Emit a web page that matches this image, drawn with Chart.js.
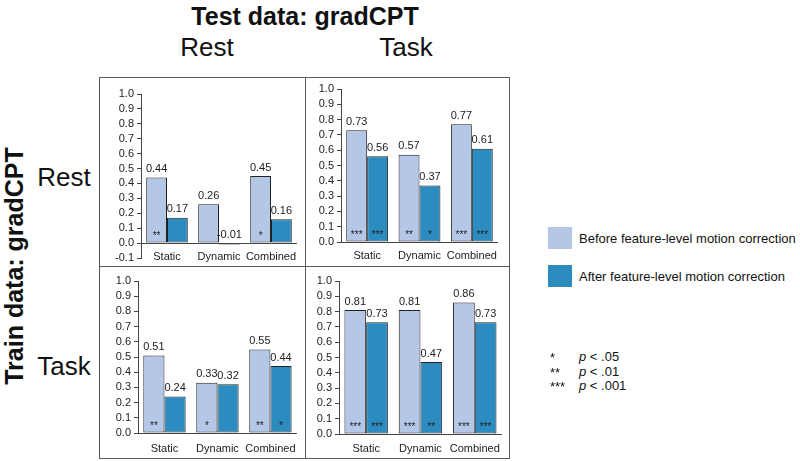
<!DOCTYPE html>
<html>
<head>
<meta charset="utf-8">
<script src="https://cdn.jsdelivr.net/npm/chart.js@4/dist/chart.umd.min.js"></script>
<style>
  html,body{margin:0;padding:0;background:#fff;}
  body{width:800px;height:461px;position:relative;overflow:hidden;font-family:"Liberation Sans",Arial,sans-serif;color:#111;}
  .t{position:absolute;white-space:nowrap;transform:translate(-50%,-50%);}
  .l{position:absolute;white-space:nowrap;transform:translateY(-50%);}
  canvas{position:absolute;}
  .line{position:absolute;background:#5a5a5a;}
  .sw{position:absolute;width:24px;height:22px;}
</style>
</head>
<body>

<div class="t" style="left:305px;top:16px;font-size:25px;font-weight:bold;">Test data: gradCPT</div>
<div class="t" style="left:207px;top:47px;font-size:26px;">Rest</div>
<div class="t" style="left:406px;top:47px;font-size:26px;">Task</div>
<div class="t" style="left:14px;top:266px;font-size:25px;font-weight:bold;transform:translate(-50%,-50%) rotate(-90deg);">Train data: gradCPT</div>
<div class="t" style="left:64px;top:177px;font-size:26px;">Rest</div>
<div class="t" style="left:64px;top:366px;font-size:26px;">Task</div>

<!-- panel frame -->
<div class="line" style="left:99px;top:77px;width:411px;height:1px;"></div>
<div class="line" style="left:99px;top:458px;width:411px;height:1px;"></div>
<div class="line" style="left:99px;top:77px;width:1px;height:382px;"></div>
<div class="line" style="left:509px;top:77px;width:1px;height:382px;"></div>
<div class="line" style="left:305px;top:77px;width:1px;height:382px;"></div>
<div class="line" style="left:99px;top:266px;width:411px;height:1px;"></div>

<canvas id="c1"></canvas>
<canvas id="c2"></canvas>
<canvas id="c3"></canvas>
<canvas id="c4"></canvas>

<!-- legend -->
<div class="sw" style="left:548px;top:227px;background:#b4c7e7;"></div>
<div class="l" style="left:579px;top:238px;font-size:13px;">Before feature-level motion correction</div>
<div class="sw" style="left:548px;top:265px;background:#2c8bbf;"></div>
<div class="l" style="left:579px;top:276px;font-size:13px;">After feature-level motion correction</div>

<div class="l" style="left:550px;top:357px;font-size:13px;">*</div>
<div class="l" style="left:579px;top:356px;font-size:13px;"><i>p</i> &lt; .05</div>
<div class="l" style="left:550px;top:372px;font-size:13px;">**</div>
<div class="l" style="left:579px;top:371px;font-size:13px;"><i>p</i> &lt; .01</div>
<div class="l" style="left:550px;top:386px;font-size:13px;">***</div>
<div class="l" style="left:579px;top:385px;font-size:13px;"><i>p</i> &lt; .001</div>

<script>
/* ========= DATA ========= */
const categories = ["Static", "Dynamic", "Combined"];

// train Rest / test Rest
const restRestBefore = [0.44, 0.26, 0.45];
const restRestAfter  = [0.17, -0.01, 0.16];
const restRestStarsBefore = ["**", "", "*"];
const restRestStarsAfter  = ["", "", ""];

// train Rest / test Task
const restTaskBefore = [0.73, 0.57, 0.77];
const restTaskAfter  = [0.56, 0.37, 0.61];
const restTaskStarsBefore = ["***", "**", "***"];
const restTaskStarsAfter  = ["***", "*", "***"];

// train Task / test Rest
const taskRestBefore = [0.51, 0.33, 0.55];
const taskRestAfter  = [0.24, 0.32, 0.44];
const taskRestStarsBefore = ["**", "*", "**"];
const taskRestStarsAfter  = ["", "", "*"];

// train Task / test Task
const taskTaskBefore = [0.81, 0.81, 0.86];
const taskTaskAfter  = [0.73, 0.47, 0.73];
const taskTaskStarsBefore = ["***", "***", "***"];
const taskTaskStarsAfter  = ["***", "**", "***"];

const yMax = 1.0;
const yStep = 0.1;

/* ========= STYLE ========= */
const FONT = "'Liberation Sans', Arial, sans-serif";
const BEFORE = "#b4c7e7";
const AFTER  = "#2c8bbf";

/* ========= PLUGINS ========= */
const zeroLine = {
  id: "zeroLine",
  afterDatasetsDraw(chart){
    const {ctx, chartArea, scales} = chart;
    const y = Math.round(scales.y.getPixelForValue(0)) + 0.5;
    ctx.save();
    ctx.strokeStyle = "#444";
    ctx.lineWidth = 1;
    ctx.beginPath();
    ctx.moveTo(chartArea.left, y);
    ctx.lineTo(chartArea.right, y);
    ctx.stroke();
    ctx.restore();
  }
};

const barNotes = {
  id: "barNotes",
  afterDatasetsDraw(chart){
    const {ctx, scales} = chart;
    ctx.save();
    ctx.textAlign = "center";
    chart.data.datasets.forEach((ds, i) => {
      chart.getDatasetMeta(i).data.forEach((bar, j) => {
        const v = ds.data[j];
        const top = scales.y.getPixelForValue(Math.max(v, 0));
        ctx.fillStyle = "#222";
        ctx.font = "11px " + FONT;
        ctx.textBaseline = "bottom";
        ctx.fillText(v.toFixed(2), bar.x, top - 3);
        if (ds.stars[j]) {
          ctx.font = "10px " + FONT;
          ctx.textBaseline = "middle";
          ctx.fillText(ds.stars[j], bar.x, scales.y.getPixelForValue(0.045));
        }
      });
    });
    ctx.restore();
  }
};

/* ========= PANELS ========= */
function panel(id, box, yMin, before, after, starsBefore, starsAfter){
  const cv = document.getElementById(id);
  cv.style.left = box.left + "px";
  cv.style.top = box.top + "px";
  cv.style.width = box.width + "px";
  cv.style.height = box.height + "px";
  cv.width = box.width;
  cv.height = box.height;

  new Chart(cv, {
    type: "bar",
    data: {
      labels: categories,
      datasets: [
        {data: before, stars: starsBefore, backgroundColor: BEFORE, borderColor: "#222", borderWidth: 1, borderSkipped: false},
        {data: after,  stars: starsAfter,  backgroundColor: AFTER,  borderColor: "#222", borderWidth: 1, borderSkipped: false}
      ]
    },
    options: {
      responsive: false,
      animation: false,
      events: [],
      layout: {padding: {top: box.padTop, right: box.padRight, bottom: 0, left: 0}},
      plugins: {legend: {display: false}, tooltip: {enabled: false}},
      datasets: {bar: {categoryPercentage: 0.8, barPercentage: 1.0}},
      scales: {
        x: {
          afterFit(scale){ scale.height = box.axisH; },
          grid: {display: false, drawTicks: false},
          border: {display: false},
          ticks: {color: "#222", font: {family: FONT, size: 11}, padding: box.labelPad, mirror: !!box.mirror, maxRotation: 0, autoSkip: false}
        },
        y: {
          min: yMin,
          max: yMax,
          afterFit(scale){ scale.width = box.axisW; },
          afterBuildTicks(scale){
            const t = [];
            for (let k = Math.round(yMin / yStep); k <= Math.round(yMax / yStep); k++) t.push({value: +(k * yStep).toFixed(1)});
            scale.ticks = t;
          },
          grid: {drawOnChartArea: false, drawTicks: true, tickLength: 4, color: "#444"},
          border: {display: true, color: "#444"},
          ticks: {
            color: "#222",
            font: {family: FONT, size: 11},
            padding: 3,
            autoSkip: false,
            callback: v => v.toFixed(1)
          }
        }
      }
    },
    plugins: [zeroLine, barNotes]
  });
}

panel("c1", {left: 100, top: 78, width: 205, height: 194, axisW: 41, axisH: 14, padTop: 16, padRight: 8, labelPad: -6, mirror: true},
      -0.1, restRestBefore, restRestAfter, restRestStarsBefore, restRestStarsAfter);
panel("c2", {left: 306, top: 78, width: 203, height: 188, axisW: 35, axisH: 24, padTop: 11, padRight: 11, labelPad: 7},
      0, restTaskBefore, restTaskAfter, restTaskStarsBefore, restTaskStarsAfter);
panel("c3", {left: 100, top: 267, width: 205, height: 191, axisW: 38, axisH: 25, padTop: 14, padRight: 3, labelPad: 9},
      0, taskRestBefore, taskRestAfter, taskRestStarsBefore, taskRestStarsAfter);
panel("c4", {left: 306, top: 267, width: 203, height: 191, axisW: 33, axisH: 24, padTop: 14, padRight: 7, labelPad: 8},
      0, taskTaskBefore, taskTaskAfter, taskTaskStarsBefore, taskTaskStarsAfter);
</script>
</body>
</html>
